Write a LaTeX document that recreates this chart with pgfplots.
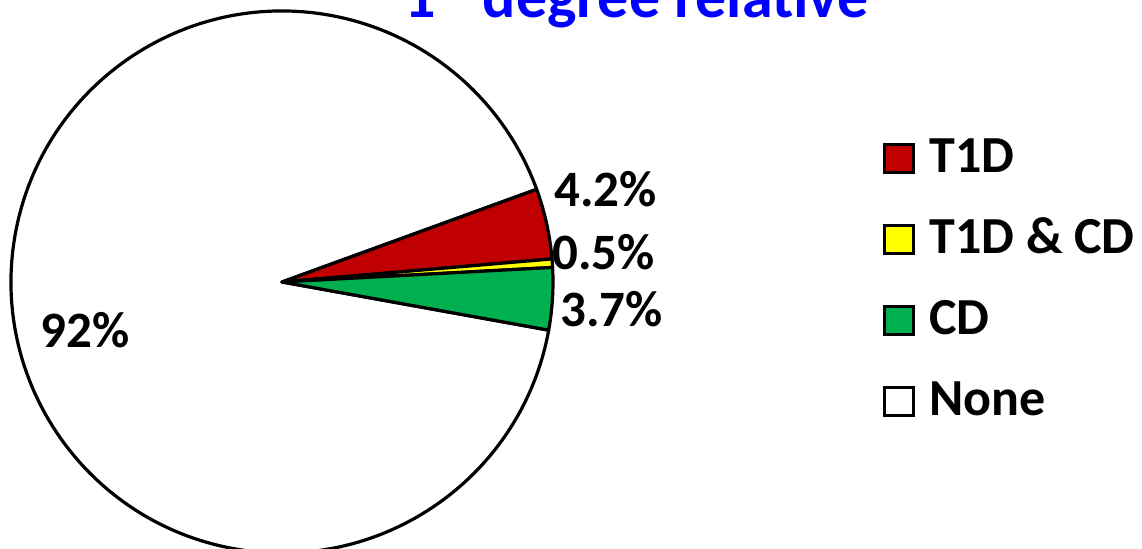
\documentclass[border=0pt]{standalone}
\usepackage{pgfplots}
\pgfplotsset{compat=1.18}
\usepackage{pgfplotstable}
\usepackage{fontspec}
\setmainfont{Carlito}
\definecolor{pieRed}{RGB}{192,0,0}
\definecolor{pieYellow}{RGB}{255,255,0}
\definecolor{pieGreen}{RGB}{0,176,80}
\definecolor{titleBlue}{RGB}{0,0,255}
\pgfplotstableread{
label value
T1D 4.2
T1DCD 0.5
CD 3.7
None 91.6
}\piedata
\pgfplotstablegetelem{0}{value}\of\piedata \let\vA\pgfplotsretval
\pgfplotstablegetelem{1}{value}\of\piedata \let\vB\pgfplotsretval
\pgfplotstablegetelem{2}{value}\of\piedata \let\vC\pgfplotsretval
\pgfplotstablegetelem{3}{value}\of\piedata \let\vD\pgfplotsretval
\pgfmathsetmacro\sA{20}
\pgfmathsetmacro\eA{\sA-3.6*\vA}
\pgfmathsetmacro\eB{\eA-3.6*\vB}
\pgfmathsetmacro\eC{\eB-3.6*\vC}
\pgfmathsetmacro\eD{\eC-3.6*\vD}
\begin{document}
\begin{tikzpicture}
\useasboundingbox (0,0) rectangle (571pt,274.5pt);
\clip (0,0) rectangle (571pt,274.5pt);
\begin{axis}[
  x=0.5pt, y=0.5pt,
  xmin=0, xmax=1142, ymin=0, ymax=549,
  hide axis, clip=false,
  legend cell align=left,
  legend image code/.code={\draw[#1] (0.75pt,-8.5pt) rectangle (15.25pt,5.5pt);},
  legend style={at={(axis cs:883,410)}, anchor=north west, draw=none, fill=none,
    inner sep=0pt, row sep=23pt, column sep=7pt,
    font=\fontsize{26}{31}\selectfont\bfseries,
    nodes={inner sep=0pt, text height=16.5pt, text depth=0pt}},
]
\filldraw[fill=white, draw=black, line width=1.6pt, line join=round]
  (axis cs:282,267) -- ++(\eC:135.5pt) arc[start angle=\eC, end angle=\eD, radius=135.5pt] -- cycle;
\filldraw[fill=pieRed, draw=black, line width=1.6pt, line join=round]
  (axis cs:282,267) -- ++(\sA:135.5pt) arc[start angle=\sA, end angle=\eA, radius=135.5pt] -- cycle;
\filldraw[fill=pieYellow, draw=black, line width=1.6pt, line join=round]
  (axis cs:282,267) -- ++(\eA:135.5pt) arc[start angle=\eA, end angle=\eB, radius=135.5pt] -- cycle;
\filldraw[fill=pieGreen, draw=black, line width=1.6pt, line join=round]
  (axis cs:282,267) -- ++(\eB:135.5pt) arc[start angle=\eB, end angle=\eC, radius=135.5pt] -- cycle;
\addlegendimage{draw=black, line width=1.5pt, fill=pieRed}
\addlegendimage{draw=black, line width=1.5pt, fill=pieYellow}
\addlegendimage{draw=black, line width=1.5pt, fill=pieGreen}
\addlegendimage{draw=black, line width=1.5pt, fill=white}
\legend{T1D, T1D \& CD, CD, None}
\node[anchor=base west, inner sep=0pt, font=\fontsize{25.5}{30}\selectfont\bfseries] at (axis cs:554,342) {4.2\%};
\node[anchor=base west, inner sep=0pt, font=\fontsize{25.5}{30}\selectfont\bfseries] at (axis cs:552,279) {0.5\%};
\node[anchor=base west, inner sep=0pt, font=\fontsize{25.5}{30}\selectfont\bfseries] at (axis cs:560,222) {3.7\%};
\node[anchor=base west, inner sep=0pt, font=\fontsize{25.5}{30}\selectfont\bfseries] at (axis cs:40,201) {92\%};
\node[anchor=base west, inner sep=0pt, text=titleBlue, font=\fontsize{31}{37}\selectfont\bfseries]
  at (axis cs:404,531) {1\textsuperscript{st} degree relative};
\end{axis}
\end{tikzpicture}
\end{document}
